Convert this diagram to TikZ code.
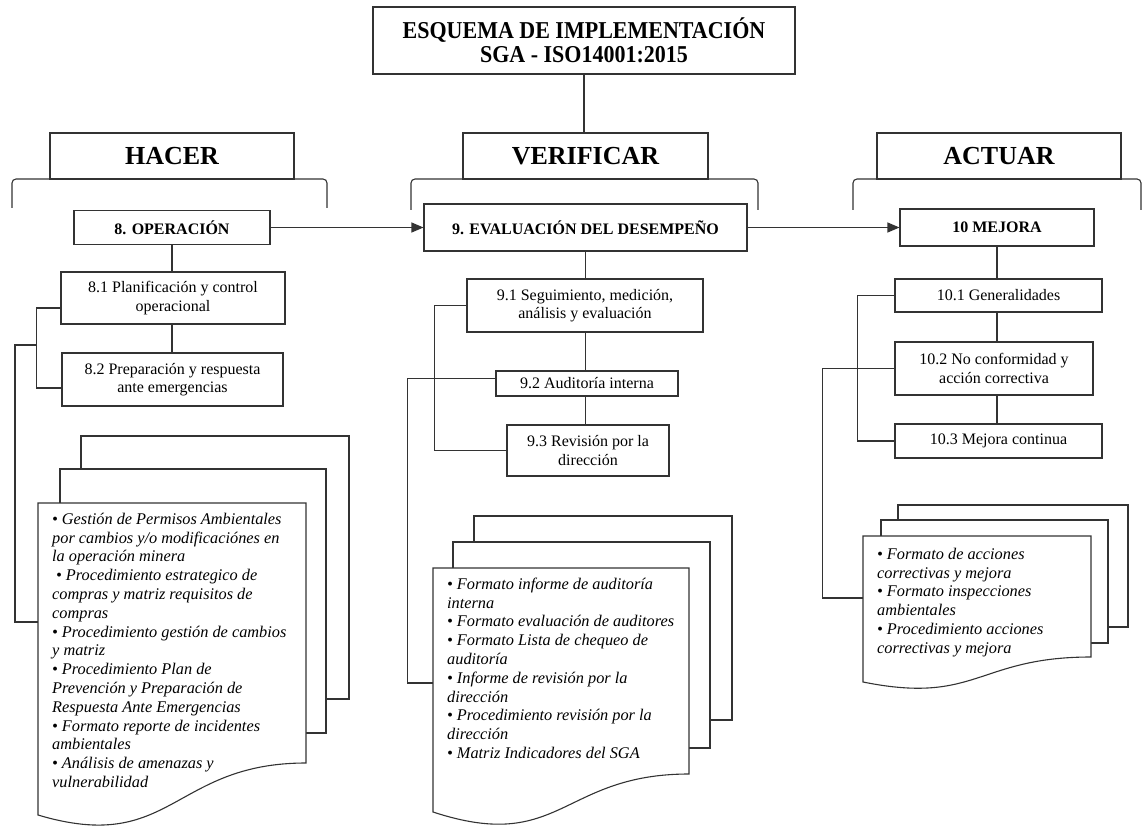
\documentclass[tikz,border=0pt]{standalone}
\usepackage{fontspec}
\setmainfont{Liberation Serif}
\usetikzlibrary{arrows.meta}

\begin{document}
\begin{tikzpicture}[x=1pt,y=-1pt,
  ln/.style={draw=black!80, line width=1.1pt},
  box/.style={draw=black!80, line width=1.1pt, fill=white, inner sep=0pt, align=center,
    font=\fontsize{16}{18.5}\selectfont},
  head/.style={box, font=\fontsize{26}{30}\selectfont\bfseries},
  sect/.style={box, font=\fontsize{16}{19}\selectfont\bfseries},
  brace/.style={ln, rounded corners=4pt},
  page/.style={ln, fill=white},
  doctext/.style={anchor=north west, inner sep=0pt, align=left,
    font=\fontsize{16.3}{18.8}\selectfont\itshape},
  arr/.style={ln, -{Triangle[length=12pt,width=10pt]}}
]
\useasboundingbox (0,0) rectangle (1142,826);

% ---------- title ----------
\node[box, minimum width=422pt, minimum height=67pt,
      font=\fontsize{22}{24.5}\selectfont\bfseries] (title) at (584,40.5)
  {\scalebox{1}[1.1]{ESQUEMA DE IMPLEMENTACIÓN}\\\scalebox{1}[1.1]{SGA - ISO14001:2015}};

% ---------- phase headers and brackets ----------
\node[head, minimum width=244pt, minimum height=46pt] (hacer)  at (172,156)   {HACER};
\node[head, minimum width=245pt, minimum height=46pt] (verif)  at (585.5,156) {VERIFICAR};
\node[head, minimum width=244pt, minimum height=46pt] (actuar) at (999,156)   {ACTUAR};

\draw[brace] (12,208)  -- (12,179)  -- (327,179)  -- (327,208);
\draw[brace] (411,210) -- (411,179) -- (758,179)  -- (758,210);
\draw[brace] (853,210) -- (853,179) -- (1141,179) -- (1141,210);

\draw[ln] (title.south) -- (title.south |- verif.north);

% ---------- clause boxes ----------
\node[sect, minimum width=196pt, minimum height=34pt] (op)     at (172,227.5)   {8. OPERACIÓN};
\node[sect, minimum width=323pt, minimum height=47pt] (eval)   at (585.5,227.5) {9. EVALUACIÓN DEL DESEMPEÑO};
\node[sect, minimum width=194pt, minimum height=37pt] (mejora) at (997,227.5)   {10 MEJORA};

\draw[arr] (op.east) -- (eval.west);
\draw[arr] (eval.east) -- (mejora.west);

% ---------- sub-clauses: operation ----------
\node[box, minimum width=224pt, minimum height=52pt] (n81) at (173,298)
  {8.1 Planificación y control\\operacional};
\node[box, minimum width=221pt, minimum height=53pt] (n82) at (172.5,379.5)
  {8.2 Preparación y respuesta\\ante emergencias};

\draw[ln] (op.south) -- (op.south |- n81.north);
\draw[ln] (op.south |- n81.south) -- (op.south |- n82.north);
\draw[ln] ([yshift=-10pt]n81.west) -- ++(-24,0) |- ([yshift=-8.5pt]n82.west);

% ---------- sub-clauses: evaluation ----------
\node[box, minimum width=236pt, minimum height=53pt] (n91) at (585,305.5)
  {9.1 Seguimiento, medición,\\análisis y evaluación};
\node[box, minimum width=182pt, minimum height=25pt] (n92) at (587,383.5)
  {9.2 Auditoría interna};
\node[box, minimum width=162pt, minimum height=51pt] (n93) at (588,450.5)
  {9.3 Revisión por la\\dirección};

\draw[ln] (eval.south) -- (eval.south |- n91.north);
\draw[ln] (eval.south |- n91.south) -- (eval.south |- n92.north);
\draw[ln] (eval.south |- n92.south) -- (eval.south |- n93.north);
\draw[ln] (n91.west) -- ++(-32,0) |- (n93.west);

% ---------- sub-clauses: improvement ----------
\node[box, minimum width=207pt, minimum height=33pt] (n101) at (998.5,295.5)
  {10.1 Generalidades};
\node[box, minimum width=198pt, minimum height=53pt] (n102) at (994,368.5)
  {10.2 No conformidad y\\acción correctiva};
\node[box, minimum width=207pt, minimum height=34pt] (n103) at (998.5,441)
  {10.3 Mejora continua};

\draw[ln] (mejora.south) -- (mejora.south |- n101.north);
\draw[ln] (mejora.south |- n101.south) -- (mejora.south |- n102.north);
\draw[ln] (mejora.south |- n102.south) -- (mejora.south |- n103.north);
\draw[ln] (n101.west) -- ++(-37,0) |- (n103.west);

% ---------- document stacks ----------
\coordinate (ljoin) at (37,345);
\coordinate (ldoc)  at (38,622);
\coordinate (mdoc)  at (433,683);
\coordinate (rdoc)  at (863,598);

\draw[ln] (ljoin) -- ++(-22,0) |- (ldoc);
\draw[ln] ([yshift=5pt]n92.west) -- ++(-88,0) |- (mdoc);
\draw[ln] (n102.west) -- ++(-72,0) |- (rdoc);

% operation records
\draw[page] (81,436) rectangle (349,699);
\draw[page] (60,469) rectangle (326,733);
\draw[page] (38,503) -- (306,503) -- (306,763)
  .. controls (172,763) and (172,855) .. (38,815) -- cycle;
\node[doctext] (ltext) at (52,511) {\strut• Gestión de Permisos Ambientales\\
por cambios y/o modificaciónes en\\
la operación minera\\
\hspace{4pt}• Procedimiento estrategico de\\
compras y matriz requisitos de\\
compras\\
• Procedimiento gestión de cambios\\
y matriz\\
• Procedimiento Plan de\\
Prevención y Preparación de\\
Respuesta Ante Emergencias\\
• Formato reporte de incidentes\\
ambientales\\
• Análisis de amenazas y\\
vulnerabilidad};

% evaluation records
\draw[page] (474,516) rectangle (732,720);
\draw[page] (453,542) rectangle (710,748);
\draw[page] (433,568) -- (689,568) -- (689,774)
  .. controls (561,774) and (561,854) .. (433,812) -- cycle;
\node[doctext] (mtext) at (447,576) {\strut• Formato informe de auditoría\\
interna\\
• Formato evaluación de auditores\\
• Formato Lista de chequeo de\\
auditoría\\
• Informe de revisión por la\\
dirección\\
• Procedimiento revisión por la\\
dirección\\
• Matriz Indicadores del SGA};

% improvement records
\draw[page] (898,505) rectangle (1128,627);
\draw[page] (881,520) rectangle (1108,643);
\draw[page] (863,536) -- (1091,536) -- (1091,657)
  .. controls (977,657) and (977,705) .. (863,682) -- cycle;
\node[doctext] (rtext) at (877,546) {\strut• Formato de acciones\\
correctivas y mejora\\
• Formato inspecciones\\
ambientales\\
• Procedimiento acciones\\
correctivas y mejora};

\end{tikzpicture}
\end{document}
